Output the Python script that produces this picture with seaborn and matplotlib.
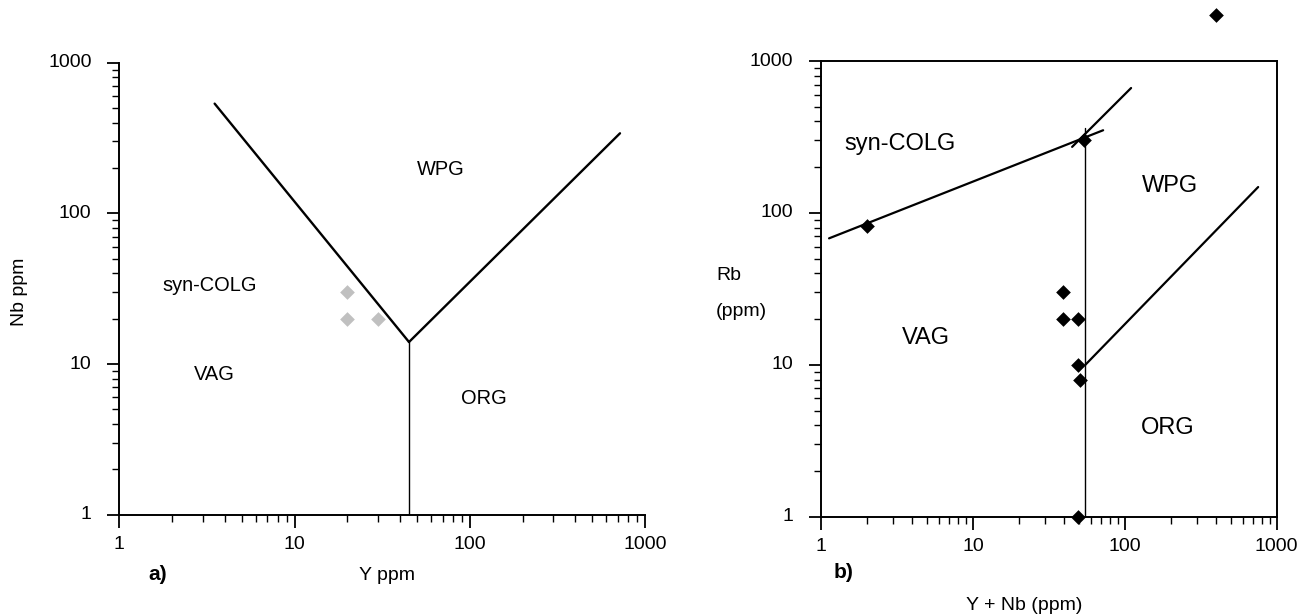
import matplotlib
matplotlib.use("Agg")
import matplotlib.pyplot as plt
import seaborn as sns
from matplotlib.ticker import LogLocator, NullFormatter

# ---- panel a: Nb vs Y ----
y_a = [20, 20, 30]
nb_a = [30, 20, 20]

# tectonic discrimination boundaries, panel a
a_left_x, a_left_y = [3.5, 45], [535, 14]
a_right_x, a_right_y = [45, 720], [14, 340]
a_vert_x, a_vert_y = [45, 45], [14, 1]

# ---- panel b: Rb vs Y+Nb ----
ynb_b = [2, 39, 39, 49, 49, 51, 49, 54, 400]
rb_b = [82, 30, 20, 20, 10, 8, 1, 300, 2000]

# tectonic discrimination boundaries, panel b
b_colg_x, b_colg_y = [1.13, 72], [68, 350]
b_colg2_x, b_colg2_y = [45, 110], [272, 664]
b_vert_x, b_vert_y = [55, 55], [1, 362]
b_org_x, b_org_y = [55, 755], [10, 148]

major_ticks = [1, 10, 100, 1000]
major_labels = ["1", "10", "100", "1000"]

sns.set_style("ticks")
plt.rcParams["font.family"] = ["Liberation Sans", "DejaVu Sans"]
plt.rcParams["text.color"] = "black"
plt.rcParams["axes.labelcolor"] = "black"
plt.rcParams["xtick.color"] = "black"
plt.rcParams["ytick.color"] = "black"

W, H = 1299, 616
fig = plt.figure(figsize=(W / 100, H / 100), dpi=100)


def px_axes(x0, x1, y0, y1):
    return fig.add_axes([x0 / W, 1 - y1 / H, (x1 - x0) / W, (y1 - y0) / H])


ax_a = px_axes(119.3, 645, 62.7, 514.7)
ax_b = px_axes(821, 1276.7, 61, 516.7)

for ax in (ax_a, ax_b):
    ax.set_xscale("log")
    ax.set_yscale("log")
    ax.set_xlim(1, 1000)
    ax.set_ylim(1, 1000)
    ax.set_xticks(major_ticks)
    ax.set_xticklabels(major_labels)
    ax.set_yticks(major_ticks)
    ax.set_yticklabels(major_labels)
    ax.xaxis.set_minor_locator(LogLocator(base=10, subs=range(2, 10)))
    ax.yaxis.set_minor_locator(LogLocator(base=10, subs=range(2, 10)))
    ax.xaxis.set_minor_formatter(NullFormatter())
    ax.yaxis.set_minor_formatter(NullFormatter())
    ax.tick_params(which="major", direction="out", length=9, width=1.3,
                   labelsize=14, color="black", labelcolor="black")
    ax.tick_params(which="minor", direction="out", length=5, width=1.0,
                   color="black")
    ax.tick_params(axis="y", which="major", pad=11)
    ax.tick_params(axis="x", which="major", pad=6)
    ax.set_facecolor("white")

# panel a: open axes
for side in ("top", "right"):
    ax_a.spines[side].set_visible(False)
for side in ("left", "bottom"):
    ax_a.spines[side].set_linewidth(1.4)
    ax_a.spines[side].set_color("black")

# panel b: closed box
for side in ("top", "right", "left", "bottom"):
    ax_b.spines[side].set_visible(True)
    ax_b.spines[side].set_linewidth(1.4)
    ax_b.spines[side].set_color("black")
ax_b.tick_params(top=False, right=False)


def seg(ax, xs, ys, lw):
    sns.lineplot(x=xs, y=ys, ax=ax, color="black", linewidth=lw,
                 sort=False, estimator=None, legend=False)


# panel a boundaries and samples
seg(ax_a, a_left_x, a_left_y, 1.7)
seg(ax_a, a_right_x, a_right_y, 1.7)
seg(ax_a, a_vert_x, a_vert_y, 1.0)
sns.scatterplot(x=y_a, y=nb_a, ax=ax_a, marker="D", s=56, color="#c0c0c0",
                linewidth=0, zorder=3, legend=False)

# panel b boundaries and samples
seg(ax_b, b_colg_x, b_colg_y, 1.6)
seg(ax_b, b_colg2_x, b_colg2_y, 1.6)
seg(ax_b, b_vert_x, b_vert_y, 1.0)
seg(ax_b, b_org_x, b_org_y, 1.6)
sns.scatterplot(x=ynb_b, y=rb_b, ax=ax_b, marker="D", s=56, color="black",
                linewidth=0, zorder=5, clip_on=False, legend=False)

for ax in (ax_a, ax_b):
    ax.set_xlim(1, 1000)
    ax.set_ylim(1, 1000)
    ax.set_xlabel("")
    ax.set_ylabel("")
    for lbl in ax.get_yticklabels():
        lbl.set_verticalalignment("center")

# field names
fs_a = 14.4
ax_a.text(68, 197, "WPG", ha="center", va="center", fontsize=fs_a)
ax_a.text(3.27, 33.4, "syn-COLG", ha="center", va="center", fontsize=fs_a)
ax_a.text(3.5, 8.5, "VAG", ha="center", va="center", fontsize=fs_a)
ax_a.text(120, 5.9, "ORG", ha="center", va="center", fontsize=fs_a)

fs_b = 17
ax_b.text(1.42, 285, "syn-COLG", ha="left", va="center", fontsize=fs_b)
ax_b.text(198, 151, "WPG", ha="center", va="center", fontsize=fs_b)
ax_b.text(4.9, 15, "VAG", ha="center", va="center", fontsize=fs_b)
ax_b.text(192, 3.82, "ORG", ha="center", va="center", fontsize=fs_b)


def ftext(x, y, s, **kw):
    fig.text(x / W, 1 - y / H, s, **kw)


# axis titles and panel letters
ftext(19.5, 291.7, "Nb ppm", rotation=90, ha="center", va="center", fontsize=14)
ftext(387, 575, "Y ppm", ha="center", va="center", fontsize=14)
ftext(158, 575, "a)", ha="center", va="center", fontsize=15, fontweight="bold")

ftext(716, 276, "Rb", ha="left", va="center", fontsize=14)
ftext(716, 312, "(ppm)", ha="left", va="center", fontsize=14)
ftext(844, 572, "b)", ha="center", va="center", fontsize=15, fontweight="bold")
ftext(1024, 605, "Y + Nb (ppm)", ha="center", va="center", fontsize=14)

fig.savefig("out.png", dpi=100, facecolor="white")
